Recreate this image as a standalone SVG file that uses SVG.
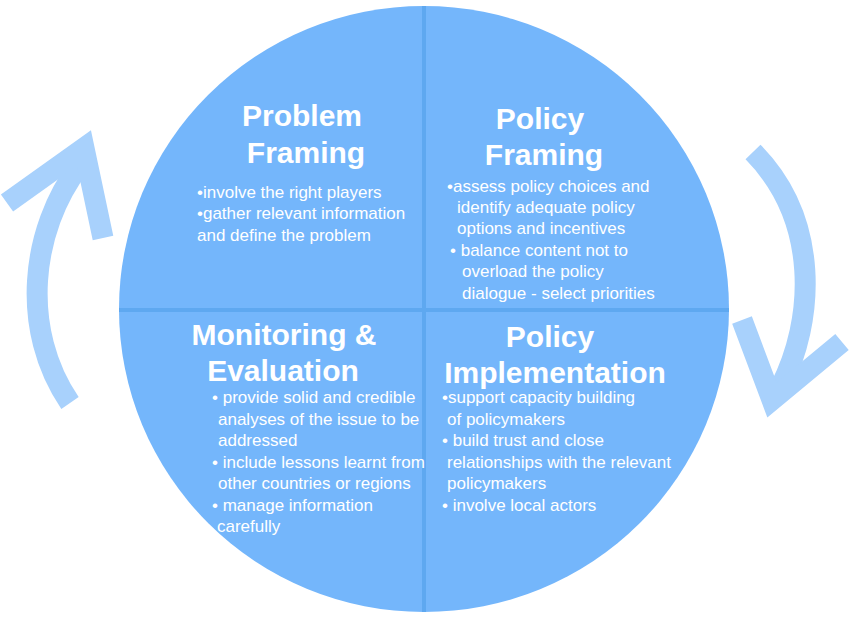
<svg xmlns="http://www.w3.org/2000/svg" width="850" height="619" viewBox="0 0 850 619">
<style>
.title{font-family:"Liberation Sans",Arial,sans-serif;font-weight:bold;font-size:30px;fill:#ffffff;text-anchor:middle}
.body{font-family:"Liberation Sans",Arial,sans-serif;font-size:17px;fill:#ffffff}
.arrow{fill:none;stroke:#a8d1fc;stroke-width:21}
.div{stroke:#5ea8f0;stroke-width:4}
</style>
<rect width="850" height="619" fill="#ffffff"/>
<g id="cycle">
<ellipse cx="424" cy="309" rx="305" ry="303" fill="#74b6fb"/>
<line class="div" x1="424" y1="6" x2="424" y2="612"/>
<line class="div" x1="119" y1="310" x2="729" y2="310"/>
</g>
<g id="connectors">
<path class="arrow" d="M70,403 C20,330 30,230 80,165"/>
<polyline class="arrow" points="7,203 84,148 103,238" stroke-linejoin="miter"/>
<path class="arrow" d="M753,152 C820,220 815,320 780,388"/>
<polyline class="arrow" points="742,320 772,400 842,342" stroke-linejoin="miter"/>
</g>
<g id="problem-framing">
<text class="title" x="302" y="126">Problem</text>
<text class="title" x="306" y="163">Framing</text>
<text class="body" x="197" y="198">•involve the right players</text>
<text class="body" x="197" y="219">•gather relevant information</text>
<text class="body" x="197" y="241">and define the problem</text>
</g>
<g id="policy-framing">
<text class="title" x="540" y="129">Policy</text>
<text class="title" x="544" y="165">Framing</text>
<text class="body" x="447" y="192">•assess policy choices and</text>
<text class="body" x="457" y="213">identify adequate policy</text>
<text class="body" x="457" y="234">options and incentives</text>
<text class="body" x="450" y="256">• balance content not to</text>
<text class="body" x="462" y="277">overload the policy</text>
<text class="body" x="462" y="299">dialogue - select priorities</text>
</g>
<g id="monitoring-evaluation">
<text class="title" x="284" y="345">Monitoring &amp;</text>
<text class="title" x="283" y="381">Evaluation</text>
<text class="body" x="212" y="403">• provide solid and credible</text>
<text class="body" x="218" y="425">analyses of the issue to be</text>
<text class="body" x="218" y="446">addressed</text>
<text class="body" x="212" y="468">• include lessons learnt from</text>
<text class="body" x="218" y="489">other countries or regions</text>
<text class="body" x="212" y="511">• manage information</text>
<text class="body" x="217" y="532">carefully</text>
</g>
<g id="policy-implementation">
<text class="title" x="550" y="347">Policy</text>
<text class="title" x="555" y="383">Implementation</text>
<text class="body" x="442" y="403">•support capacity building</text>
<text class="body" x="447" y="425">of policymakers</text>
<text class="body" x="442" y="446">• build trust and close</text>
<text class="body" x="447" y="468">relationships with the relevant</text>
<text class="body" x="447" y="489">policymakers</text>
<text class="body" x="442" y="511">• involve local actors</text>
</g>
</svg>
